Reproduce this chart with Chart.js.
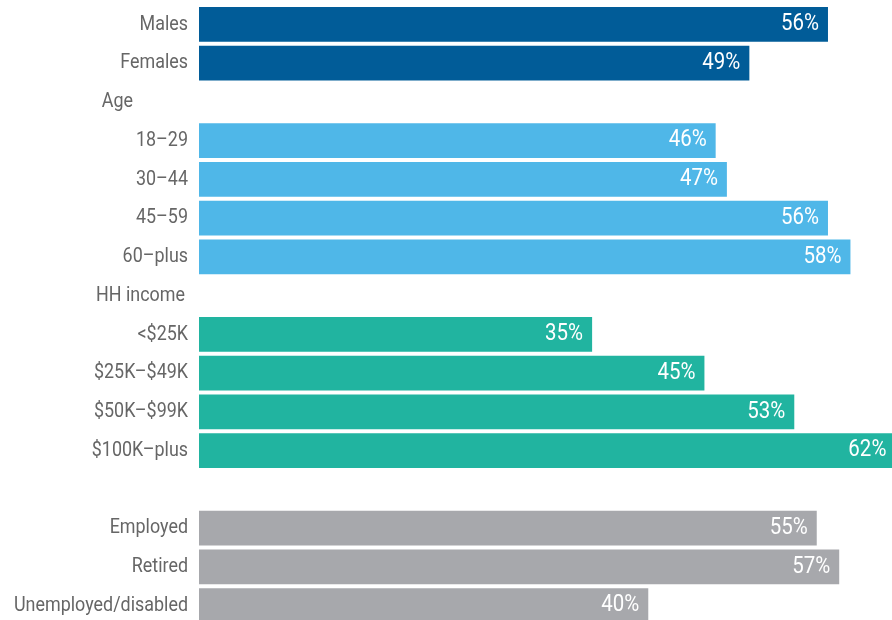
<!DOCTYPE html>
<html>
<head>
<meta charset="utf-8">
<script src="https://cdn.jsdelivr.net/npm/chart.js@4"></script>
<style>
  html, body { margin: 0; padding: 0; background: #fff; overflow: hidden; }
  #chart { display: block; }
</style>
</head>
<body>
<canvas id="chart" width="892" height="630"></canvas>
<script>
// rows top to bottom, "" is the spacer row
const categories = [
  "Males", "Females",
  "Age", "18–29", "30–44", "45–59", "60–plus",
  "HH income", "<$25K", "$25K–$49K", "$50K–$99K", "$100K–plus",
  "",
  "Employed", "Retired", "Unemployed/disabled"
];
const values = [
  56, 49,
  null, 46, 47, 56, 58,
  null, 35, 45, 53, 62,
  null,
  55, 57, 40
];
const groups = [
  "sex", "sex",
  "head", "age", "age", "age", "age",
  "head", "inc", "inc", "inc", "inc",
  "head",
  "emp", "emp", "emp"
];

const groupColors = {
  sex: "#015c98",
  age: "#4fb7e8",
  inc: "#21b4a0",
  emp: "#a7a8ac",
  head: "#ffffff"
};

// the original uses a condensed face, so squeeze Roboto to the same widths
const labelFont = "21px Roboto, sans-serif";
const valueFont = "23px Roboto, sans-serif";

// heading rows sit a bit left of the other labels
const headingShift = { "Age": 55, "HH income": 3 };

function squeezeFor(ctx, font, sample, width) {
  ctx.save();
  ctx.font = font;
  const w = ctx.measureText(sample).width;
  ctx.restore();
  return Math.min(1, width / w);
}

function narrowText(ctx, text, x, y, k) {
  ctx.save();
  ctx.translate(x, y);
  ctx.scale(k, 1);
  ctx.fillText(text, 0, 0);
  ctx.restore();
}

const labelPlugin = {
  id: "labels",
  afterDatasetsDraw(chart) {
    const ctx = chart.ctx;
    const x = chart.scales.x;
    const y = chart.scales.y;
    const kLabel = squeezeFor(ctx, labelFont, "Unemployed/disabled", 174);
    const kValue = squeezeFor(ctx, valueFont, "56%", 38);
    ctx.save();
    ctx.textBaseline = "middle";
    ctx.textAlign = "right";
    categories.forEach((c, i) => {
      const yy = y.getPixelForValue(i);
      ctx.font = labelFont;
      ctx.fillStyle = "#666666";
      narrowText(ctx, c, 188 - (headingShift[c] || 0), yy, kLabel);
      if (values[i] != null) {
        ctx.font = valueFont;
        ctx.fillStyle = "#ffffff";
        narrowText(ctx, values[i] + "%", x.getPixelForValue(values[i]) - 9, yy, kValue);
      }
    });
    ctx.restore();
  }
};

new Chart(document.getElementById("chart"), {
  type: "bar",
  data: {
    labels: categories,
    datasets: [{
      data: values,
      backgroundColor: groups.map((g) => groupColors[g]),
      borderWidth: 0,
      categoryPercentage: 1,
      barPercentage: 0.895
    }]
  },
  options: {
    indexAxis: "y",
    responsive: false,
    animation: false,
    layout: { padding: { left: 199, top: 5, bottom: 5, right: 0 } },
    plugins: { legend: { display: false }, tooltip: { enabled: false } },
    scales: {
      x: { display: false, min: 0, max: 61.7 },
      y: { display: false }
    }
  },
  plugins: [labelPlugin]
});
</script>
</body>
</html>
